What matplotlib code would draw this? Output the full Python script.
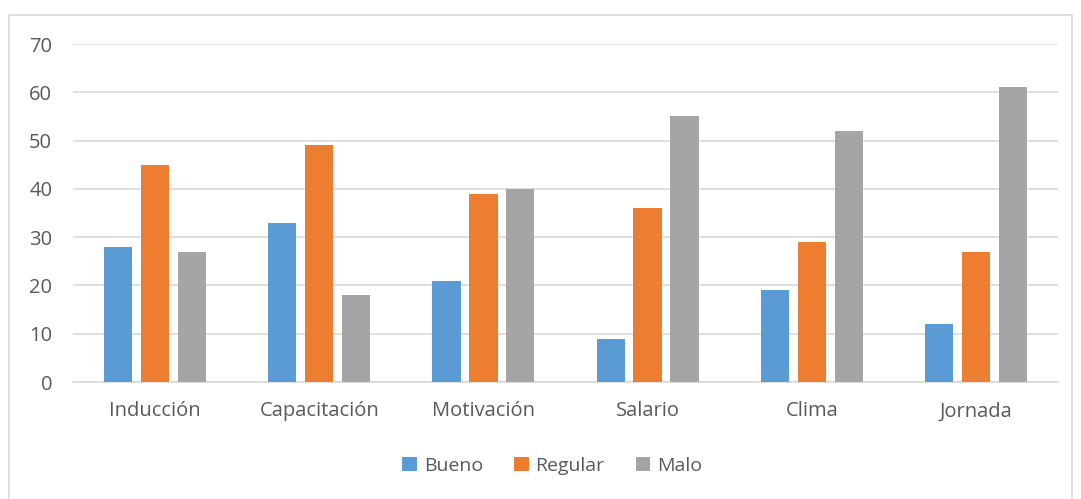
import matplotlib
matplotlib.use("Agg")
import matplotlib.pyplot as plt
import numpy as np
from matplotlib.patches import Rectangle

categories = ["Inducción", "Capacitación", "Motivación", "Salario", "Clima", "Jornada"]
bueno = [28, 33, 21, 9, 19, 12]
regular = [45, 49, 39, 36, 29, 27]
malo = [27, 18, 40, 55, 52, 61]
series_names = ["Bueno", "Regular", "Malo"]
colors = ["#5B9BD5", "#ED7D31", "#A5A5A5"]
yticks = [0, 10, 20, 30, 40, 50, 60, 70]

plt.rcParams['font.family'] = ['Open Sans', 'DejaVu Sans']
text_color = "#595959"

fig = plt.figure(figsize=(10.81, 4.99), dpi=100)
fig.patches.append(Rectangle((9/1081, -0.1), (1072-9)/1081, 1.1 - 15/499,
                             transform=fig.transFigure, fill=False,
                             edgecolor="#D9D9D9", linewidth=1.2))
ax = fig.add_axes([73/1081, 1 - 382/499, (1058-73)/1081, (382-44)/499])

x = np.arange(len(categories))
w = 0.172
off = 0.225
for i, (vals, name, c) in enumerate(zip([bueno, regular, malo], series_names, colors)):
    ax.bar(x + (i - 1) * off, vals, width=w, color=c, label=name, zorder=3)

ax.set_xlim(-0.5, len(categories) - 0.5)
ax.set_ylim(0, 70)
ax.set_yticks(yticks)
ax.set_xticks(x)
ax.set_xticklabels(categories)
ax.grid(axis='y', color="#D9D9D9", linewidth=1.2, zorder=0)
for s in ["top", "right", "left"]:
    ax.spines[s].set_visible(False)
ax.spines["bottom"].set_color("#D9D9D9")
ax.spines["bottom"].set_linewidth(1.2)
ax.tick_params(axis='both', length=0, labelsize=14.5, colors=text_color)
ax.tick_params(axis='y', pad=15)
ax.tick_params(axis='x', pad=14)

leg = fig.legend(loc="center", bbox_to_anchor=(0.511, 1 - 466/499), ncol=3,
                 frameon=False, fontsize=14, handlelength=0.75, handleheight=0.75,
                 handletextpad=0.35, columnspacing=1.6)
for t in leg.get_texts():
    t.set_color(text_color)

fig.savefig("out.png", dpi=100)
